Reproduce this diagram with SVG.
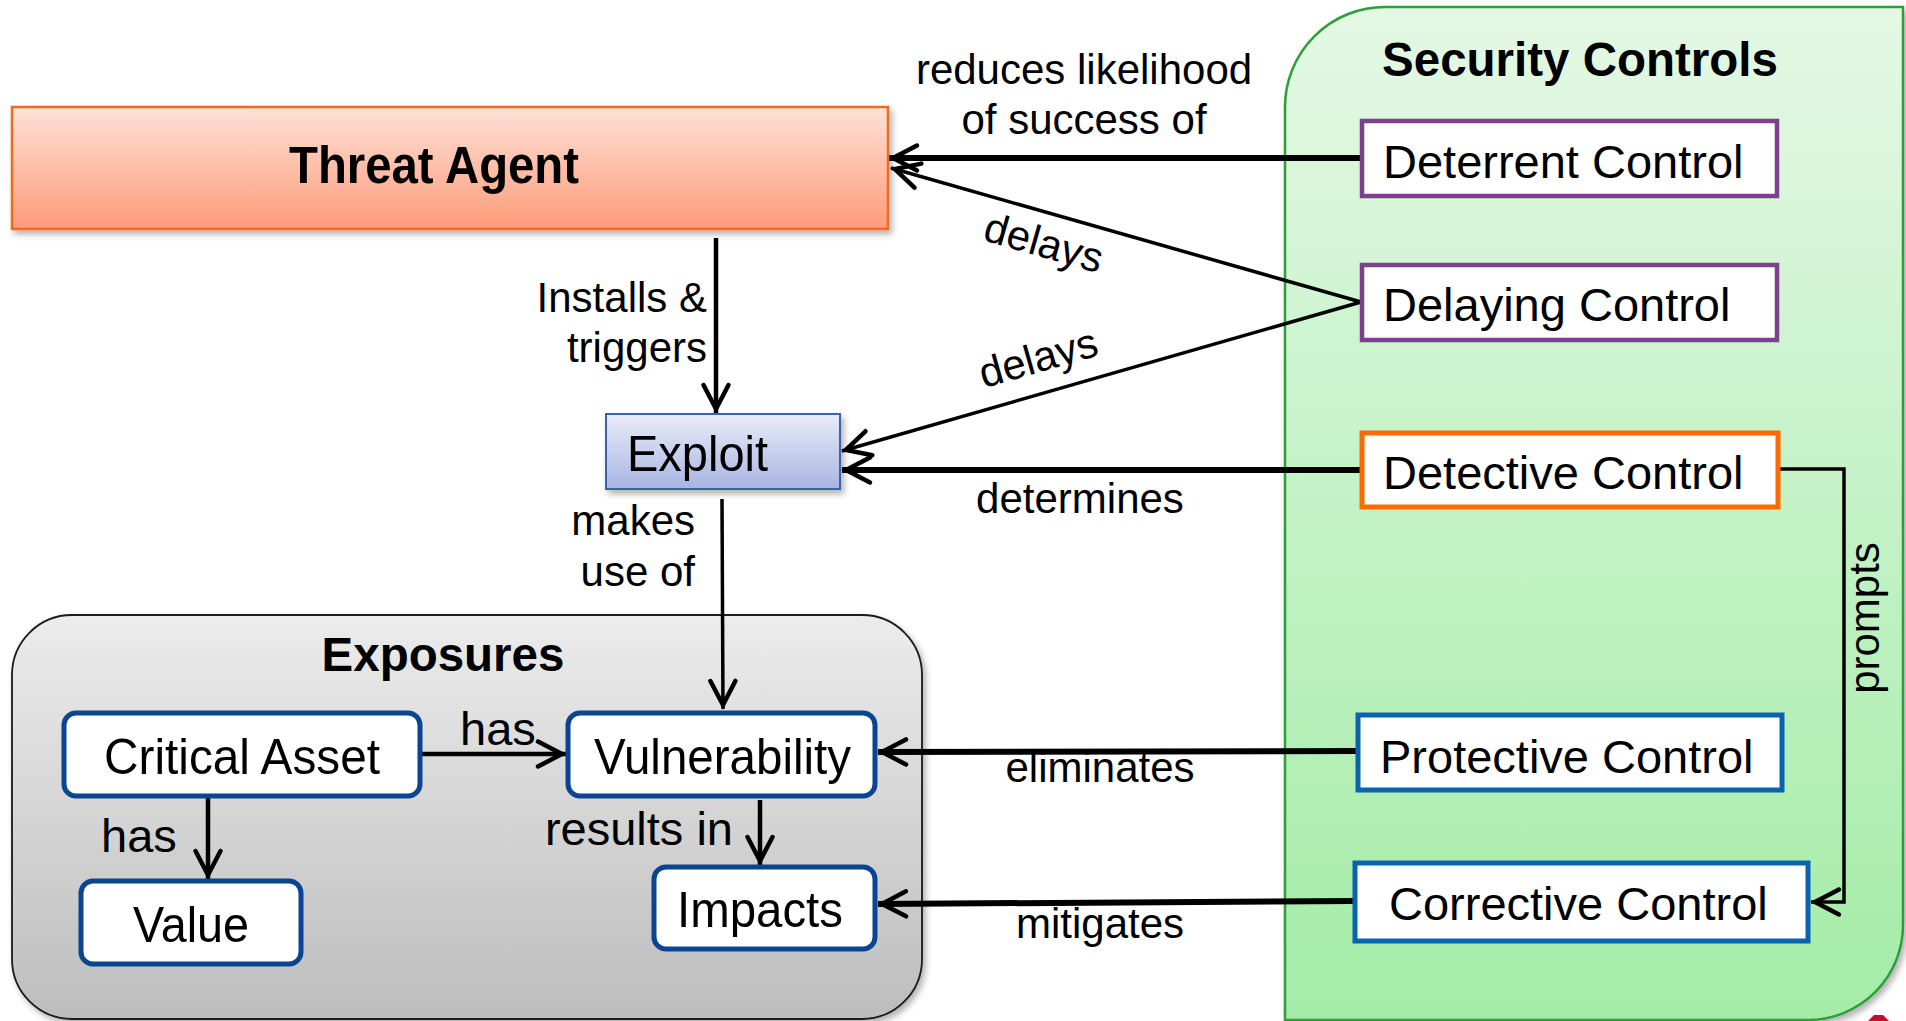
<svg xmlns="http://www.w3.org/2000/svg" width="1906" height="1021" viewBox="0 0 1906 1021">
<style>
.n{font-family:"Liberation Sans",Arial,sans-serif;font-size:47px;fill:#000}
.t{font-family:"Liberation Sans",Arial,sans-serif;font-size:50px;fill:#000}
.l{font-family:"Liberation Sans",Arial,sans-serif;font-size:42px;fill:#000}
.m{font-family:"Liberation Sans",Arial,sans-serif;font-size:47px;fill:#000}
.b{font-family:"Liberation Sans",Arial,sans-serif;font-size:47.5px;font-weight:bold;fill:#000}
.c{stroke:#000;fill:none}
.ctl{fill:#fff}
.exb{fill:#fff;stroke:#0B4490;stroke-width:5}
</style>
<defs>
<linearGradient id="gTA" x1="0" y1="0" x2="0" y2="1"><stop offset="0" stop-color="#FFE1D8"/><stop offset="1" stop-color="#FC9B79"/></linearGradient>
<linearGradient id="gEx" x1="0" y1="0" x2="0" y2="1"><stop offset="0" stop-color="#E9ECF8"/><stop offset="1" stop-color="#A8B5E2"/></linearGradient>
<linearGradient id="gExp" x1="0" y1="0" x2="0" y2="1"><stop offset="0" stop-color="#ECECEC"/><stop offset="1" stop-color="#BDBDBD"/></linearGradient>
<linearGradient id="gSC" x1="0" y1="0" x2="0" y2="1"><stop offset="0" stop-color="#E4F8E4"/><stop offset="1" stop-color="#A3ECA7"/></linearGradient>
<filter id="sh" x="-5%" y="-5%" width="115%" height="125%"><feDropShadow dx="3" dy="4" stdDeviation="3" flood-color="#000" flood-opacity="0.3"/></filter>
<marker id="arr" markerUnits="userSpaceOnUse" markerWidth="50" markerHeight="50" viewBox="-35 -25 50 50" refX="0" refY="0" orient="auto" overflow="visible">
<path d="M-28,-12.5 L-4,0 L-28,12.5" fill="none" stroke="#000" stroke-width="4.5" stroke-linecap="round"/>
</marker>
</defs>

<g id="security-controls">
<path d="M1285,107 A100,100 0 0 1 1385,7 L1903,7 L1903,925 A95,95 0 0 1 1808,1020 L1285,1020 Z" fill="url(#gSC)" stroke="#2E9E3A" stroke-width="2.5" filter="url(#sh)"/>
<text class="b" x="1580" y="76" text-anchor="middle">Security Controls</text>
</g>

<g id="exposures">
<rect x="12" y="615" width="910" height="404" rx="60" fill="url(#gExp)" stroke="#1a1a1a" stroke-width="1.8" filter="url(#sh)"/>
<text class="b" x="443" y="671" text-anchor="middle">Exposures</text>
</g>

<polygon points="1874,1015 1883,1015 1889,1021 1868,1021" fill="#C0102C"/>

<g id="connectors">
<line class="c" x1="1361" y1="158" x2="889" y2="158" stroke-width="6" marker-end="url(#arr)"/>
<line class="c" x1="1361" y1="302" x2="891" y2="168" stroke-width="3.5" marker-end="url(#arr)"/>
<line class="c" x1="1361" y1="302" x2="842" y2="451" stroke-width="3.5" marker-end="url(#arr)"/>
<line class="c" x1="1361" y1="470" x2="842" y2="470" stroke-width="6" marker-end="url(#arr)"/>
<line class="c" x1="716" y1="238" x2="716" y2="413" stroke-width="4.5" marker-end="url(#arr)"/>
<line class="c" x1="722" y1="499" x2="723" y2="709" stroke-width="3.5" marker-end="url(#arr)"/>
<line class="c" x1="421" y1="754" x2="566" y2="754" stroke-width="4.5" marker-end="url(#arr)"/>
<line class="c" x1="208" y1="793" x2="208" y2="879" stroke-width="4.5" marker-end="url(#arr)"/>
<line class="c" x1="760" y1="800" x2="760" y2="865" stroke-width="4.5" marker-end="url(#arr)"/>
<line class="c" x1="1357" y1="751" x2="878" y2="752" stroke-width="6" marker-end="url(#arr)"/>
<line class="c" x1="1354" y1="901" x2="878" y2="904" stroke-width="6" marker-end="url(#arr)"/>
<polyline class="c" points="1779,469 1844,469 1844,902 1811,902" stroke-width="3.5" marker-end="url(#arr)"/>
<text class="l" x="1084" y="84" text-anchor="middle">reduces likelihood</text>
<text class="l" x="1084" y="134" text-anchor="middle">of success of</text>
<text class="l" transform="translate(1043,246) rotate(16)" x="0" y="11" text-anchor="middle">delays</text>
<text class="l" transform="translate(1039,361) rotate(-16)" x="0" y="11" text-anchor="middle">delays</text>
<text class="l" x="707" y="312" text-anchor="end">Installs &amp;</text>
<text class="l" x="707" y="362" text-anchor="end">triggers</text>
<text class="l" x="695" y="535" text-anchor="end">makes</text>
<text class="l" x="695" y="586" text-anchor="end">use of</text>
<text class="l" x="1080" y="513" text-anchor="middle">determines</text>
<text class="l" x="1100" y="782" text-anchor="middle">eliminates</text>
<text class="l" x="1100" y="938" text-anchor="middle">mitigates</text>
<text class="m" x="460" y="745">has</text>
<text class="m" x="101" y="852">has</text>
<text class="m" x="733" y="845" text-anchor="end">results in</text>
<text class="l" transform="translate(1879,618) rotate(-90)" x="0" y="0" text-anchor="middle">prompts</text>
</g>

<g id="threat-agent">
<rect x="12" y="107" width="876" height="122" fill="url(#gTA)" stroke="#F26A1F" stroke-width="2.5" filter="url(#sh)"/>
<text class="b" x="289" y="183" style="font-size:51px" textLength="290" lengthAdjust="spacingAndGlyphs">Threat Agent</text>
</g>

<g id="exploit">
<rect x="606" y="414" width="234" height="75" fill="url(#gEx)" stroke="#3A62AC" stroke-width="2" filter="url(#sh)"/>
<text class="t" x="627" y="471" textLength="141" lengthAdjust="spacingAndGlyphs">Exploit</text>
</g>

<g id="deterrent-control">
<rect class="ctl" x="1362" y="121" width="415" height="75" stroke="#7F3F8F" stroke-width="4.5"/>
<text class="n" x="1383" y="178">Deterrent Control</text>
</g>

<g id="delaying-control">
<rect class="ctl" x="1362" y="265" width="415" height="75" stroke="#7F3F8F" stroke-width="4.5"/>
<text class="n" x="1383" y="321">Delaying Control</text>
</g>

<g id="detective-control">
<rect class="ctl" x="1362" y="433" width="416" height="74" stroke="#FF6A00" stroke-width="5"/>
<text class="n" x="1383" y="489">Detective Control</text>
</g>

<g id="protective-control">
<rect class="ctl" x="1358" y="715" width="424" height="75" stroke="#0A64AD" stroke-width="5"/>
<text class="n" x="1380" y="773">Protective Control</text>
</g>

<g id="corrective-control">
<rect class="ctl" x="1355" y="863" width="453" height="78" stroke="#0A64AD" stroke-width="5"/>
<text class="n" x="1389" y="920">Corrective Control</text>
</g>

<g id="critical-asset">
<rect class="exb" x="64" y="713" width="356" height="83" rx="12"/>
<text class="t" x="104" y="774" textLength="276" lengthAdjust="spacingAndGlyphs">Critical Asset</text>
</g>

<g id="vulnerability">
<rect class="exb" x="568" y="713" width="307" height="83" rx="12"/>
<text class="t" x="594" y="774" textLength="257" lengthAdjust="spacingAndGlyphs">Vulnerability</text>
</g>

<g id="value">
<rect class="exb" x="81" y="881" width="220" height="83" rx="12"/>
<text class="t" x="133" y="942" textLength="116" lengthAdjust="spacingAndGlyphs">Value</text>
</g>

<g id="impacts">
<rect class="exb" x="654" y="867" width="221" height="82" rx="12"/>
<text class="t" x="677" y="927" textLength="166" lengthAdjust="spacingAndGlyphs">Impacts</text>
</g>
</svg>
